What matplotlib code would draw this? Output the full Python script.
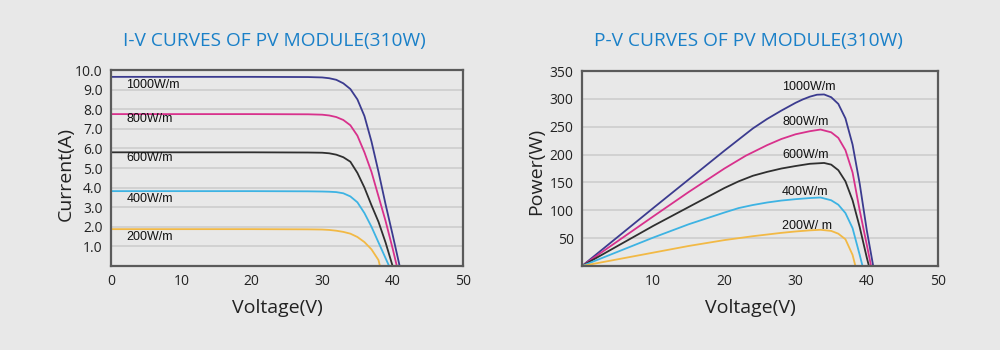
import matplotlib
matplotlib.use("Agg")
import matplotlib.pyplot as plt

plt.rcParams["font.family"] = ["Open Sans", "DejaVu Sans"]

BG = "#e8e8e8"
TITLE_BLUE = "#1a80c8"
COLORS = ["#3b3b8f", "#d8318c", "#2f2f2f", "#3db3e3", "#f2b945"]
LABELS = ["1000W/m", "800W/m", "600W/m", "400W/m", "200W/m"]
PV_LABELS = ["1000W/m", "800W/m", "600W/m", "400W/m", "200W/ m"]

# I-V curves (voltage V, current A)
iv_v = [
    [0, 10, 20, 28, 30, 31, 32, 33, 34, 35, 36, 37, 38, 39, 40, 41.0],
    [0, 10, 20, 28, 30, 31, 32, 33, 34, 35, 36, 37, 38, 39, 40, 40.6],
    [0, 10, 20, 28, 30, 31, 32, 33, 34, 35, 36, 37, 38, 39, 40],
    [0, 10, 20, 28, 30, 31, 32, 33, 34, 35, 36, 37, 38, 39, 39.5],
    [0, 10, 20, 28, 30, 31, 32, 33, 34, 35, 36, 37, 38, 38.2],
]
iv_i = [
    [9.65, 9.65, 9.65, 9.64, 9.62, 9.58, 9.5, 9.32, 9.03, 8.5, 7.65, 6.35, 4.8, 3.15, 1.6, 0],
    [7.75, 7.75, 7.75, 7.74, 7.72, 7.68, 7.6, 7.45, 7.18, 6.65, 5.8, 4.8, 3.55, 2.3, 0.9, 0],
    [5.8, 5.8, 5.8, 5.79, 5.78, 5.75, 5.68, 5.55, 5.32, 4.75, 4.0, 3.1, 2.25, 1.2, 0],
    [3.82, 3.82, 3.82, 3.81, 3.8, 3.79, 3.77, 3.71, 3.55, 3.25, 2.7, 2.0, 1.2, 0.4, 0],
    [1.88, 1.88, 1.88, 1.87, 1.86, 1.84, 1.8, 1.74, 1.65, 1.48, 1.22, 0.85, 0.3, 0],
]
iv_label_y = [9.26, 7.48, 5.49, 3.41, 1.48]

# P-V curves (voltage V, power W)
pv_v = [
    [0, 10, 20, 24, 26, 28, 30, 31, 32, 33, 34, 35, 36, 37, 38, 39, 40, 40.9],
    [0, 10, 15, 20, 23, 26, 28, 30, 32, 33.5, 35, 36, 37, 38, 39, 40, 40.6],
    [0, 10, 20, 22, 24, 26, 28, 30, 32, 34, 35, 36, 37, 38, 39, 40, 40.3],
    [0, 10, 15, 20, 22, 24, 26, 28, 30, 32, 33.5, 35, 36, 37, 38, 39, 39.4],
    [0, 10, 15, 20, 24, 26, 28, 30, 32, 33.5, 35, 36, 37, 38, 38.4],
]
pv_p = [
    [0, 104, 207, 247, 264, 279, 293, 299, 304, 307.5, 308, 303, 291, 265, 218, 148, 64, 0],
    [0, 89, 133, 175, 198, 217, 228, 236.5, 242, 245, 240, 230, 208, 168, 100, 38, 0],
    [0, 72, 140, 152, 162, 169, 175, 179.5, 183.5, 185, 182, 172, 152, 118, 70, 15, 0],
    [0, 51, 75, 96, 104, 109.5, 114, 117.5, 120, 122, 123, 118, 110, 95, 68, 20, 0],
    [0, 24, 36, 46.5, 53.5, 56.5, 59.5, 62, 64, 65, 63, 58, 48, 20, 0],
]
pv_label_y = [321, 258, 200, 133, 71]


def style_axes(ax, ylim, yticks, ytick_labels, xticks):
    ax.set_facecolor(BG)
    ax.set_xlim(0, 50)
    ax.set_ylim(*ylim)
    ax.set_xticks(xticks)
    ax.set_yticks(yticks)
    ax.set_yticklabels(ytick_labels)
    ax.tick_params(length=0, labelsize=10, colors="#222222", pad=6)
    ax.yaxis.grid(True, color="#cdcdcd", linewidth=1.2)
    ax.set_axisbelow(True)
    for s in ax.spines.values():
        s.set_color("#5a5a5a")
        s.set_linewidth(1.6)


fig = plt.figure(figsize=(10, 3.5), dpi=100, facecolor=BG)

ax1 = fig.add_axes([0.111, 0.24, 0.352, 0.56])
style_axes(ax1, (0, 10), [1, 2, 3, 4, 5, 6, 7, 8, 9, 10],
           [f"{t:.1f}" for t in range(1, 11)], [0, 10, 20, 30, 40, 50])
for v, i, c, lab, ly in zip(iv_v, iv_i, COLORS, LABELS, iv_label_y):
    ax1.plot(v, i, color=c, linewidth=1.3)
    ax1.text(2.2, ly, lab, fontsize=9, va="center", ha="left",
             family=["Liberation Sans"], color="#111111")

ax2 = fig.add_axes([0.582, 0.24, 0.356, 0.557])
style_axes(ax2, (0, 350), [50, 100, 150, 200, 250, 300, 350],
           ["50", "100", "150", "200", "250", "300", "350"],
           [10, 20, 30, 40, 50])
for v, p, c, lab, ly in zip(pv_v, pv_p, COLORS, PV_LABELS, pv_label_y):
    ax2.plot(v, p, color=c, linewidth=1.3)
    ax2.text(28.1, ly, lab, fontsize=9, va="center", ha="left",
             family=["Liberation Sans"], color="#111111")

# titles and axis labels sit a bit left of the axes centre in the original
fig.text(0.274, 0.883, "I-V CURVES OF PV MODULE(310W)", fontsize=13.8,
         color=TITLE_BLUE, ha="center", va="center")
fig.text(0.748, 0.883, "P-V CURVES OF PV MODULE(310W)", fontsize=13.8,
         color=TITLE_BLUE, ha="center", va="center")
fig.text(0.277, 0.12, "Voltage(V)", fontsize=14, color="#222222",
         ha="center", va="center")
fig.text(0.75, 0.12, "Voltage(V)", fontsize=14, color="#222222",
         ha="center", va="center")
fig.text(0.066, 0.503, "Current(A)", fontsize=14, color="#222222",
         ha="center", va="center", rotation=90)
fig.text(0.536, 0.509, "Power(W)", fontsize=14, color="#222222",
         ha="center", va="center", rotation=90)

fig.savefig("out.png", dpi=100, facecolor=BG)
